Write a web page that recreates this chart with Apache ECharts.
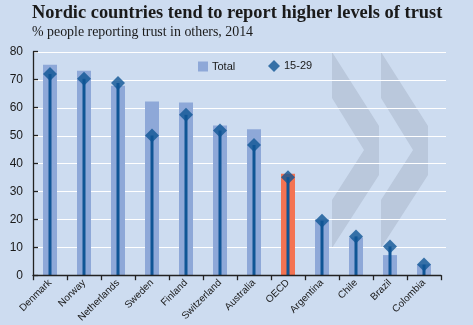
<!DOCTYPE html>
<html>
<head>
<meta charset="utf-8">
<script src="https://cdn.jsdelivr.net/npm/echarts@6/dist/echarts.min.js"></script>
<style>
html,body{margin:0;padding:0;background:#cddcf0;}
#c{width:473px;height:325px;}
</style>
</head>
<body>
<div id="c"></div>
<script>
var categories = ['Denmark','Norway','Netherlands','Sweden','Finland','Switzerland','Australia','OECD','Argentina','Chile','Brazil','Colombia'];
var totalValues = [75.3, 73.2, 67.8, 62.2, 61.8, 53.6, 52.2, 36.3, 20.0, 13.5, 7.2, 3.9];
var youthValues = [72.0, 70.3, 68.8, 50.0, 57.4, 51.8, 46.6, 35.1, 19.5, 13.9, 10.3, 3.8];
var yTicks = [0, 10, 20, 30, 40, 50, 60, 70, 80];

var BAR = '#8ea8d8', OECD = '#f47352', DARK = '#0f5595', BG = '#cddcf0';
var chart = echarts.init(document.getElementById('c'), null, {renderer: 'canvas'});

function chevron(x0) {
  return [[x0,52],[x0+47,126],[x0+47,175],[x0,248],[x0,200],[x0+32,150],[x0,98]];
}

chart.setOption({
  backgroundColor: BG,
  animation: false,
  title: [{
    text: 'Nordic countries tend to report higher levels of trust',
    left: 32, top: 4, padding: 0,
    textStyle: {fontFamily: 'Liberation Serif', fontWeight: 'bold', fontSize: 18.4, color: '#1a1a1a'}
  }, {
    text: '% people reporting trust in others, 2014',
    left: 32, top: 25, padding: 0,
    textStyle: {fontFamily: 'Liberation Serif', fontWeight: 'normal', fontSize: 13.9, color: '#1a1a1a'}
  }],
  legend: [{
    data: [{name: 'Total', icon: 'rect'}],
    left: 193, top: 56, itemWidth: 10, itemHeight: 10, itemGap: 4,
    textStyle: {fontFamily: 'Liberation Sans', fontSize: 11, color: '#1a1a1a', padding: [0,0,0,-1]},
    selectedMode: false
  }, {
    data: [{name: '15-29', icon: 'diamond'}],
    left: 263, top: 55, itemWidth: 12, itemHeight: 12,
    textStyle: {fontFamily: 'Liberation Sans', fontSize: 11, color: '#1a1a1a', padding: [0,0,0,-1]},
    selectedMode: false
  }],
  grid: {left: 33, right: 32, top: 51.7, bottom: 47.7, containLabel: false},
  xAxis: [{
    type: 'category', data: categories,
    axisLine: {lineStyle: {color: '#222', width: 1.3}},
    axisTick: {show: true, length: 5, lineStyle: {color: '#222', width: 1.3}, alignWithLabel: false},
    axisLabel: {rotate: 45, fontFamily: 'Liberation Sans', fontSize: 10, color: '#1a1a1a', margin: 6, interval: 0},
    z: 8
  }, {
    type: 'category', data: categories, show: false
  }],
  yAxis: {
    type: 'value', min: 0, max: 80, interval: 10,
    axisLine: {show: true, lineStyle: {color: '#222', width: 1.3}},
    axisTick: {show: true, inside: true, length: 5, lineStyle: {color: '#222', width: 1.3}},
    axisLabel: {fontFamily: 'Liberation Sans', fontSize: 12, color: '#1a1a1a', margin: 10,
      formatter: function (v) { return yTicks.indexOf(v) >= 0 ? String(v) : ''; }},
    splitLine: {show: false},
    z: 8
  },
  series: [{
    name: 'backdrop', type: 'custom', xAxisIndex: 0, silent: true, clip: false, z: 1,
    data: [0],
    renderItem: function (params, api) {
      var cs = params.coordSys;
      var children = [
        {type: 'polygon', shape: {points: chevron(332)}, style: {fill: '#bac8dc'}},
        {type: 'polygon', shape: {points: chevron(381)}, style: {fill: '#bac8dc'}}
      ];
      yTicks.forEach(function (v) {
        if (v === 0) return;
        var y = Math.round(api.coord([0, v])[1]) + 0.5;
        children.push({type: 'line', shape: {x1: cs.x, y1: y, x2: cs.x + cs.width + 5, y2: y},
          style: {stroke: '#ffffff', lineWidth: 1.2}});
      });
      return {type: 'group', children: children};
    }
  }, {
    name: 'Total', type: 'bar', xAxisIndex: 0, barWidth: 14,
    itemStyle: {color: BAR},
    data: totalValues.map(function (v, i) {
      return categories[i] === 'OECD' ? {value: v, itemStyle: {color: OECD}} : v;
    }),
    z: 5
  }, {
    name: 'stem', type: 'bar', xAxisIndex: 1, barWidth: 3,
    itemStyle: {color: DARK},
    data: youthValues,
    z: 6
  }, {
    name: '15-29', type: 'scatter', xAxisIndex: 0, symbol: 'diamond', symbolSize: 14,
    itemStyle: {color: DARK},
    data: youthValues,
    z: 7
  }]
});
</script>
</body>
</html>
